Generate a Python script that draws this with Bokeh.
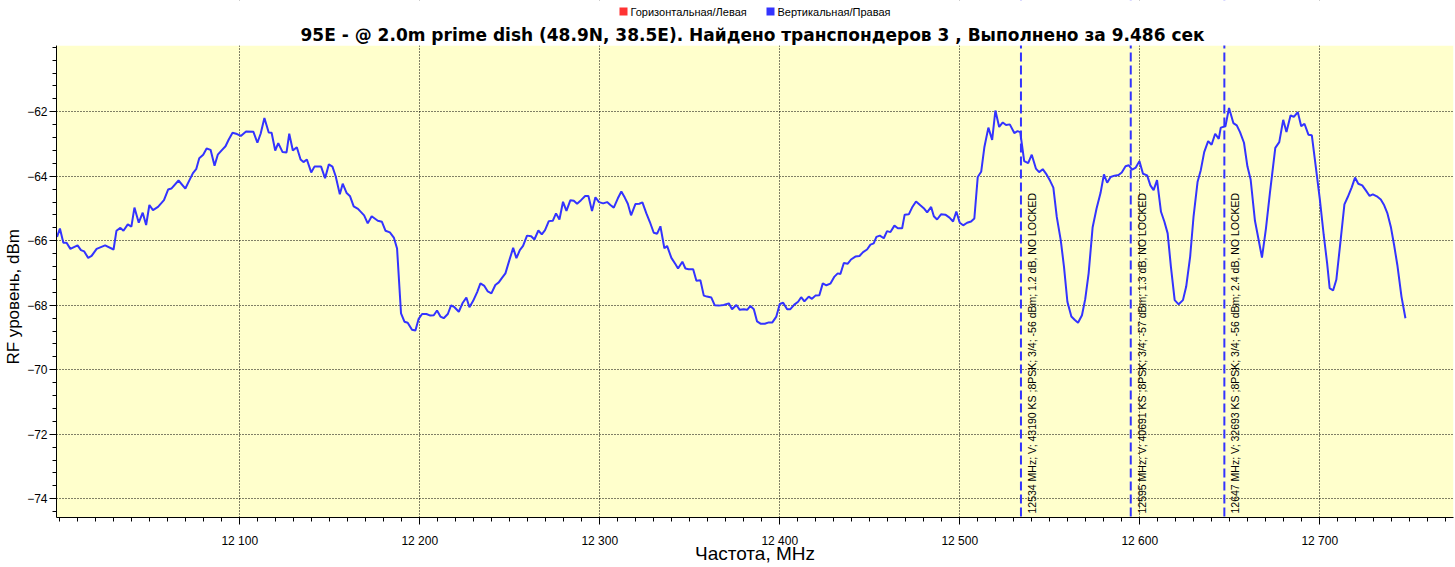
from bokeh.plotting import figure
from bokeh.models import FixedTicker, Span, Label, BoxAnnotation
from bokeh.embed import file_html
from bokeh.resources import INLINE

# ---------------- data ----------------
freq = [
    11998.5, 12000.1, 12002.0, 12003.8, 12005.9, 12009.9, 12011.8, 12013.6, 12015.8, 12017.7,
    12020.5, 12025.2, 12029.9, 12031.5, 12033.7, 12035.4, 12037.8, 12039.8, 12041.5, 12043.9,
    12046.1, 12048.0, 12049.8, 12051.8, 12054.6, 12057.9, 12060.2, 12062.0, 12066.0, 12069.8,
    12071.8, 12074.0, 12075.8, 12077.5, 12079.7, 12081.6, 12083.8, 12086.0, 12087.8, 12090.2,
    12092.1, 12093.9, 12096.0, 12098.5, 12100.6, 12103.5, 12107.6, 12109.8, 12111.6, 12113.7,
    12116.1, 12117.7, 12119.7, 12121.4, 12123.8, 12126.0, 12127.5, 12129.5, 12131.7, 12133.8,
    12135.4, 12137.3, 12139.7, 12141.5, 12145.2, 12147.4, 12149.5, 12151.5, 12153.3, 12155.6,
    12157.2, 12159.4, 12161.3, 12163.3, 12165.7, 12169.1, 12171.1, 12173.3, 12176.7, 12179.0,
    12181.0, 12183.4,
    12185.6, 12187.4, 12189.6, 12191.5, 12193.3, 12195.7, 12197.6, 12199.4, 12201.3, 12203.7,
    12205.9, 12207.8, 12209.6, 12211.5, 12213.3, 12215.6, 12217.4, 12219.3, 12221.7, 12223.9,
    12225.9, 12227.6, 12229.6, 12231.9, 12233.7, 12235.9, 12237.8, 12239.8, 12242.0, 12243.9,
    12245.7, 12247.6, 12249.8, 12251.9, 12253.7, 12255.6, 12257.4, 12259.6, 12261.9, 12263.7,
    12265.9, 12267.8, 12269.6, 12271.7, 12273.9, 12275.7, 12277.6, 12279.6, 12281.5, 12283.7,
    12285.6, 12287.4, 12289.6, 12291.9, 12293.7, 12295.7, 12297.6, 12299.6, 12301.9, 12304.1,
    12305.9, 12307.8, 12310.0, 12312.0, 12313.9, 12315.6, 12317.4, 12319.8, 12322.0, 12323.7,
    12325.9, 12327.8, 12330.0, 12331.9, 12333.7, 12335.9, 12337.4, 12339.8, 12342.0, 12343.5,
    12345.9, 12347.6, 12349.4, 12351.9, 12353.7, 12355.9, 12357.8, 12359.6, 12362.0, 12363.9,
    12366.1, 12368.9, 12371.7, 12373.5, 12375.9, 12377.8, 12380.0, 12381.9, 12383.7, 12385.6,
    12387.4, 12389.3, 12391.7, 12393.9, 12395.9, 12398.1,
    12400.0, 12401.9, 12404.1, 12405.9, 12408.1, 12410.2, 12411.9, 12413.7, 12416.1, 12417.9,
    12419.8, 12422.0, 12423.9, 12425.9, 12428.1, 12430.4, 12432.2, 12433.7, 12435.6, 12437.8,
    12439.6, 12442.0, 12444.3, 12446.3, 12448.5, 12450.4, 12452.2, 12453.7, 12455.6, 12457.8,
    12459.6, 12461.5, 12463.7, 12465.6, 12468.0, 12469.4, 12471.7, 12473.5, 12475.7, 12478.1,
    12480.0, 12481.9, 12484.1, 12485.6, 12487.4, 12489.6, 12492.0, 12494.3, 12496.3, 12498.1,
    12500.0, 12501.9, 12504.1, 12506.3, 12508.1, 12510.0, 12511.9, 12513.7, 12515.9, 12518.0,
    12519.8, 12521.9, 12523.9, 12525.7, 12527.8,
    12530.3, 12532.1, 12533.6, 12535.8, 12538.0, 12540.0, 12542.3, 12544.1, 12546.1, 12548.3,
    12550.2, 12552.0, 12553.9, 12556.1, 12557.9, 12559.8, 12562.0, 12563.8, 12565.7, 12567.9,
    12569.7, 12571.6, 12573.8, 12576.0, 12578.2, 12580.1, 12581.9, 12583.8, 12586.0, 12588.2,
    12590.0, 12592.1, 12593.9, 12595.8, 12597.8, 12599.8, 12601.8, 12604.1, 12605.9, 12607.7,
    12609.6, 12611.8, 12613.7, 12615.5, 12617.3, 12619.4, 12621.6, 12624.0, 12625.8, 12628.0,
    12629.9, 12632.1, 12633.9, 12635.8, 12638.0, 12639.9, 12641.9, 12643.9, 12645.0, 12647.6,
    12649.6, 12652.0, 12653.9, 12655.7, 12657.9, 12659.8, 12661.6, 12664.0, 12665.9, 12667.9,
    12670.1, 12672.3, 12675.3, 12677.5, 12679.7, 12681.5, 12683.8, 12685.6, 12687.8, 12689.7,
    12691.5, 12693.7, 12695.6, 12697.8, 12700.0, 12702.2, 12704.1, 12705.5, 12707.4, 12709.2,
    12711.4, 12713.7, 12715.5, 12717.7, 12719.6, 12721.4, 12723.6, 12725.5, 12727.7, 12729.5,
    12731.7, 12733.9, 12735.8, 12737.6, 12739.5, 12741.3, 12743.1, 12745.4, 12747.6,
]

level = [
    -65.88, -65.62, -66.06, -66.06, -66.25, -66.14, -66.29, -66.33, -66.53, -66.47,
    -66.25, -66.14, -66.27, -65.69, -65.60, -65.69, -65.49, -65.56, -64.97, -65.44,
    -65.13, -65.51, -64.89, -65.05, -64.95, -64.74, -64.41, -64.38, -64.13, -64.38,
    -64.15, -63.90, -63.78, -63.44, -63.33, -63.14, -63.18, -63.67, -63.33, -63.18,
    -63.07, -62.86, -62.65, -62.69, -62.75, -62.61, -62.62, -62.96, -62.68, -62.19,
    -62.64, -62.65, -63.20, -62.97, -63.25, -63.26, -62.68, -63.20, -63.10, -63.48,
    -63.56, -63.48, -63.88, -63.70, -63.70, -64.06, -63.63, -63.70, -64.00, -64.56,
    -64.23, -64.52, -64.62, -64.93, -65.01, -65.21, -65.46, -65.24, -65.38, -65.41,
    -65.69, -65.74,
    -65.90, -66.24, -68.25, -68.51, -68.54, -68.76, -68.78, -68.42, -68.27, -68.27,
    -68.32, -68.31, -68.16, -68.35, -68.40, -68.27, -68.00, -68.06, -68.20, -67.92,
    -67.76, -68.06, -67.87, -67.59, -67.32, -67.40, -67.57, -67.63, -67.37, -67.29,
    -67.15, -67.01, -66.60, -66.22, -66.54, -66.29, -66.16, -65.84, -65.86, -65.96,
    -65.68, -65.80, -65.67, -65.39, -65.38, -65.15, -65.34, -64.79, -65.07, -64.74,
    -64.76, -64.85, -64.74, -64.61, -64.61, -65.08, -64.65, -64.80, -64.84, -64.80,
    -64.89, -64.97, -64.69, -64.47, -64.66, -64.85, -65.21, -64.86, -64.85, -64.81,
    -65.15, -65.41, -65.75, -65.78, -65.55, -66.23, -66.16, -66.53, -66.72, -66.86,
    -66.65, -66.86, -66.88, -66.88, -67.24, -67.22, -67.70, -67.73, -67.76, -68.00,
    -68.01, -67.99, -67.94, -68.12, -67.99, -68.14, -68.12, -68.14, -68.02, -68.12,
    -68.50, -68.57, -68.57, -68.53, -68.53, -68.35,
    -67.96, -67.92, -68.12, -68.12, -67.98, -67.89, -67.75, -67.88, -67.73, -67.80,
    -67.70, -67.69, -67.32, -67.38, -67.33, -67.11, -67.01, -67.03, -66.69, -66.71,
    -66.58, -66.49, -66.47, -66.35, -66.27, -66.12, -66.08, -65.88, -65.84, -65.92,
    -65.70, -65.73, -65.53, -65.61, -65.61, -65.19, -65.18, -64.97, -64.78, -64.90,
    -64.99, -65.12, -64.95, -65.24, -65.34, -65.18, -65.19, -65.28, -65.40, -65.09,
    -65.44, -65.52, -65.44, -65.40, -65.31, -64.02, -63.86, -63.09, -62.49, -62.87,
    -61.96, -62.47, -62.33, -62.41, -62.39,
    -62.66, -62.60, -62.63, -63.53, -63.59, -63.33, -63.76, -63.87, -63.78, -63.95,
    -64.14, -64.35, -65.26, -65.98, -66.80, -67.89, -68.35, -68.45, -68.54, -68.31,
    -67.81, -67.01, -65.59, -65.00, -64.52, -63.94, -64.20, -64.02, -63.98, -63.96,
    -63.88, -63.69, -63.66, -63.79, -63.73, -63.53, -63.92, -63.97, -64.28, -64.43,
    -64.12, -65.10, -65.41, -65.77, -66.80, -67.84, -67.97, -67.84, -67.42, -66.49,
    -65.24, -64.18, -63.81, -63.25, -62.91, -63.02, -62.68, -62.84, -62.49, -62.45,
    -61.88, -62.35, -62.42, -62.63, -62.96, -63.69, -64.10, -65.38, -65.93, -66.52,
    -65.62, -64.52, -63.12, -62.94, -62.25, -62.63, -62.11, -62.16, -62.01, -62.45,
    -62.37, -62.71, -62.73, -63.71, -64.69, -65.82, -66.70, -67.47, -67.54, -67.21,
    -66.08, -64.87, -64.65, -64.35, -64.04, -64.23, -64.28, -64.43, -64.61, -64.56,
    -64.62, -64.72, -64.90, -65.15, -65.57, -66.13, -66.75, -67.73, -68.40,
]

tp_freq = [12534, 12595, 12647]
tp_text = [
    "12534 MHz; V; 43190 KS ;8PSK; 3/4; -56 dBm; 1.2 dB, NO LOCKED",
    "12595 MHz; V; 40691 KS ;8PSK; 3/4; -57 dBm; 1.3 dB, NO LOCKED",
    "12647 MHz; V; 32693 KS ;8PSK; 3/4; -56 dBm; 2.4 dB, NO LOCKED",
]

x_ticks = [12100, 12200, 12300, 12400, 12500, 12600, 12700]
x_tick_labels = ["12 100", "12 200", "12 300", "12 400", "12 500", "12 600", "12 700"]
y_ticks = [-74, -72, -70, -68, -66, -64, -62]

title_text = "95E -  @ 2.0m prime dish (48.9N, 38.5E). Найдено транспондеров 3 , Выполнено за 9.486 сек"
legend_labels = ["Горизонтальная/Левая", "Вертикальная/Правая"]
legend_colors = ["#FF3333", "#3333FF"]
x_label = "Частота, MHz"
y_label = "RF уровень, dBm"

# plotted value window; the frame extends above it to hold title and legend
X_MIN, X_MAX = 11998.2, 12774.3
Y_MIN, Y_TOP, Y_FRAME_TOP = -74.58, -59.944, -58.549
FRAME_H = 517

p = figure(
    width=1455, height=567,
    x_range=(X_MIN, X_MAX), y_range=(Y_MIN, Y_FRAME_TOP),
    output_backend="svg", toolbar_location=None,
    min_border_left=56, min_border_right=2, min_border_top=0, min_border_bottom=50,
    background_fill_color="white", border_fill_color="white",
    outline_line_color=None,
)

# yellow plot area
p.add_layout(BoxAnnotation(top=Y_TOP, fill_color="#FFFFCC", fill_alpha=1.0,
                           line_color=None, level="image"))

p.line(freq, level, line_color="#3333FF", line_width=2)

for f in tp_freq:
    p.add_layout(Span(location=f, dimension="height", line_color="#3333FF",
                      line_width=2, line_dash="9 4"))

# white band above the plot area (hides grid / spans there)
p.add_layout(BoxAnnotation(bottom=Y_TOP, fill_color="white", fill_alpha=1.0, line_color=None))

for f, t in zip(tp_freq, tp_text):
    p.add_layout(Label(x=f, y=4, y_units="screen", text=t, angle=90, angle_units="deg",
                       text_baseline="top", text_align="left", x_offset=5,
                       text_font="Liberation Sans", text_font_size="10.5px", text_color="black"))

# title
p.add_layout(Label(x=699, y=FRAME_H - 34, x_units="screen", y_units="screen",
                   text=title_text, text_align="center", text_baseline="middle",
                   text_font="DejaVu Sans", text_font_size="17px", text_font_style="bold",
                   text_color="black"))

# legend row
legend_x = [563, 710]
for lx, lab, col in zip(legend_x, legend_labels, legend_colors):
    p.add_layout(BoxAnnotation(left=lx, right=lx + 8, bottom=FRAME_H - 15, top=FRAME_H - 7,
                               left_units="screen", right_units="screen",
                               bottom_units="screen", top_units="screen",
                               fill_color=col, fill_alpha=1.0, line_color=None))
    p.add_layout(Label(x=lx + 11, y=FRAME_H - 11, x_units="screen", y_units="screen",
                       text=lab, text_align="left", text_baseline="middle",
                       text_font="Liberation Sans", text_font_size="11px", text_color="black"))

x_minor = list(range(12000, 12771, 10))
y_minor = [round(-74.4 + 0.4 * i, 1) for i in range(37)]

p.xaxis.ticker = FixedTicker(ticks=x_ticks, minor_ticks=x_minor)
p.yaxis.ticker = FixedTicker(ticks=y_ticks, minor_ticks=y_minor)
p.xaxis.major_label_overrides = dict(zip(x_ticks, x_tick_labels))
p.yaxis.bounds = (Y_MIN, Y_TOP)

for ax in (p.xaxis, p.yaxis):
    ax.axis_line_color = "black"
    ax.major_tick_in = 0
    ax.major_tick_out = 7
    ax.minor_tick_in = 0
    ax.minor_tick_out = 4
    ax.major_tick_line_color = "black"
    ax.minor_tick_line_color = "black"
    ax.major_label_text_font = "Liberation Sans"
    ax.major_label_text_font_size = "12px"
    ax.major_label_text_color = "black"
    ax.axis_label_text_font = "Liberation Sans"
    ax.axis_label_text_font_style = "normal"
    ax.axis_label_text_color = "black"

p.xaxis.axis_label = x_label
p.xaxis.axis_label_text_font_size = "19px"
p.xaxis.major_label_standoff = 9
p.xaxis.axis_label_standoff = -8
# the label is centred on the full frame; trailing no-break spaces move it
# down to the centre of the plotted area as in the original
p.yaxis.axis_label = y_label + "\u00a0" * 16
p.yaxis.axis_label_text_font_size = "17px"
p.yaxis.major_label_standoff = 2
p.yaxis.axis_label_standoff = 1

p.xgrid.ticker = FixedTicker(ticks=x_ticks)
p.ygrid.ticker = FixedTicker(ticks=y_ticks)
for g in (p.xgrid, p.ygrid):
    g.grid_line_color = "black"
    g.grid_line_dash = "1 2"
    g.grid_line_width = 1

open("out.html", "w").write(file_html(p, INLINE))
